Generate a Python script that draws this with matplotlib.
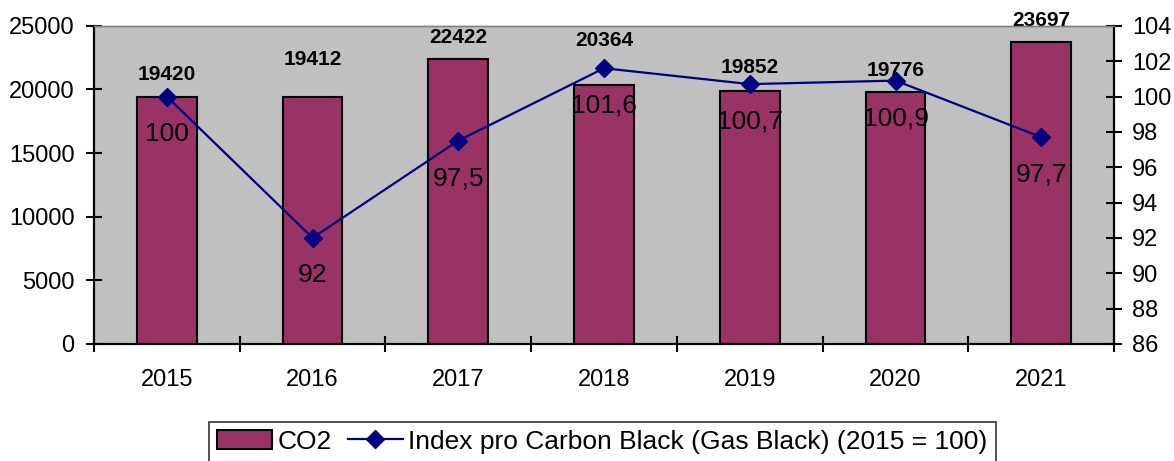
import matplotlib.pyplot as plt
import numpy as np

plt.rcParams['font.family'] = ['Liberation Sans', 'DejaVu Sans']

# data
years = ['2015', '2016', '2017', '2018', '2019', '2020', '2021']
co2 = [19420, 19412, 22422, 20364, 19852, 19776, 23697]
index_vals = [100, 92, 97.5, 101.6, 100.7, 100.9, 97.7]
index_labels = ['100', '92', '97,5', '101,6', '100,7', '100,9', '97,7']

# bar label gaps in points (as placed in the original)
bar_lbl_off = [12, 23, 11.5, 28, 13, 12, 11.5]

fig = plt.figure(figsize=(11.74, 4.61), dpi=100)
ax = fig.add_axes([0.080, 0.254, 0.869, 0.690])
ax.set_facecolor('#C0C0C0')

x = np.arange(len(years))
bars = ax.bar(x, co2, width=0.41, color='#993366', edgecolor='black',
              linewidth=1.5, label='CO2', zorder=2)
ax.set_xlim(-0.5, len(years) - 0.5)
ax.set_ylim(0, 25000)
ax.set_yticks(range(0, 25001, 5000))

for xi, v, off in zip(x, co2, bar_lbl_off):
    ax.annotate(str(v), (xi, v), xytext=(0, off), textcoords='offset points',
                ha='center', va='baseline', fontsize=15, fontweight='bold')

ax2 = ax.twinx()
ln, = ax2.plot(x, index_vals, color='#000080', marker='D', markersize=9,
               linewidth=1.6, label='Index pro Carbon Black (Gas Black) (2015 = 100)',
               zorder=3)
ax2.set_ylim(86, 104)
ax2.set_yticks(range(86, 105, 2))
for xi, v, t in zip(x, index_vals, index_labels):
    ax2.annotate(t, (xi, v), xytext=(0, -32), textcoords='offset points',
                 ha='center', va='baseline', fontsize=19)

# x axis: ticks at category boundaries, labels at centres
ax.set_xticks(np.arange(-0.5, len(years), 1.0))
ax.set_xticklabels([])
ax.set_xticks(x, minor=True)
ax.set_xticklabels(years, minor=True, fontsize=17)
ax.tick_params(axis='x', which='minor', length=0, pad=18)
ax.tick_params(axis='x', which='major', direction='inout', length=12, width=1.5)
ax.tick_params(axis='y', direction='inout', length=12, width=1.5, labelsize=17, pad=8)
ax2.tick_params(axis='y', direction='inout', length=12, width=1.5, labelsize=17, pad=7)

for a in (ax, ax2):
    for s in ('left', 'right', 'bottom'):
        a.spines[s].set_linewidth(1.5)
        a.spines[s].set_color('black')
    a.spines['top'].set_color('#808080')
    a.spines['top'].set_linewidth(1)

leg = fig.legend(handles=[bars, ln], loc='upper center', bbox_to_anchor=(0.513, 0.085),
                 ncol=2, frameon=True, fancybox=False, edgecolor='black',
                 fontsize=19, handlelength=2.1, columnspacing=0.6, handletextpad=0.2,
                 borderpad=0.3, borderaxespad=0)
leg.get_frame().set_linewidth(1.2)

fig.savefig('out.png', dpi=100)
